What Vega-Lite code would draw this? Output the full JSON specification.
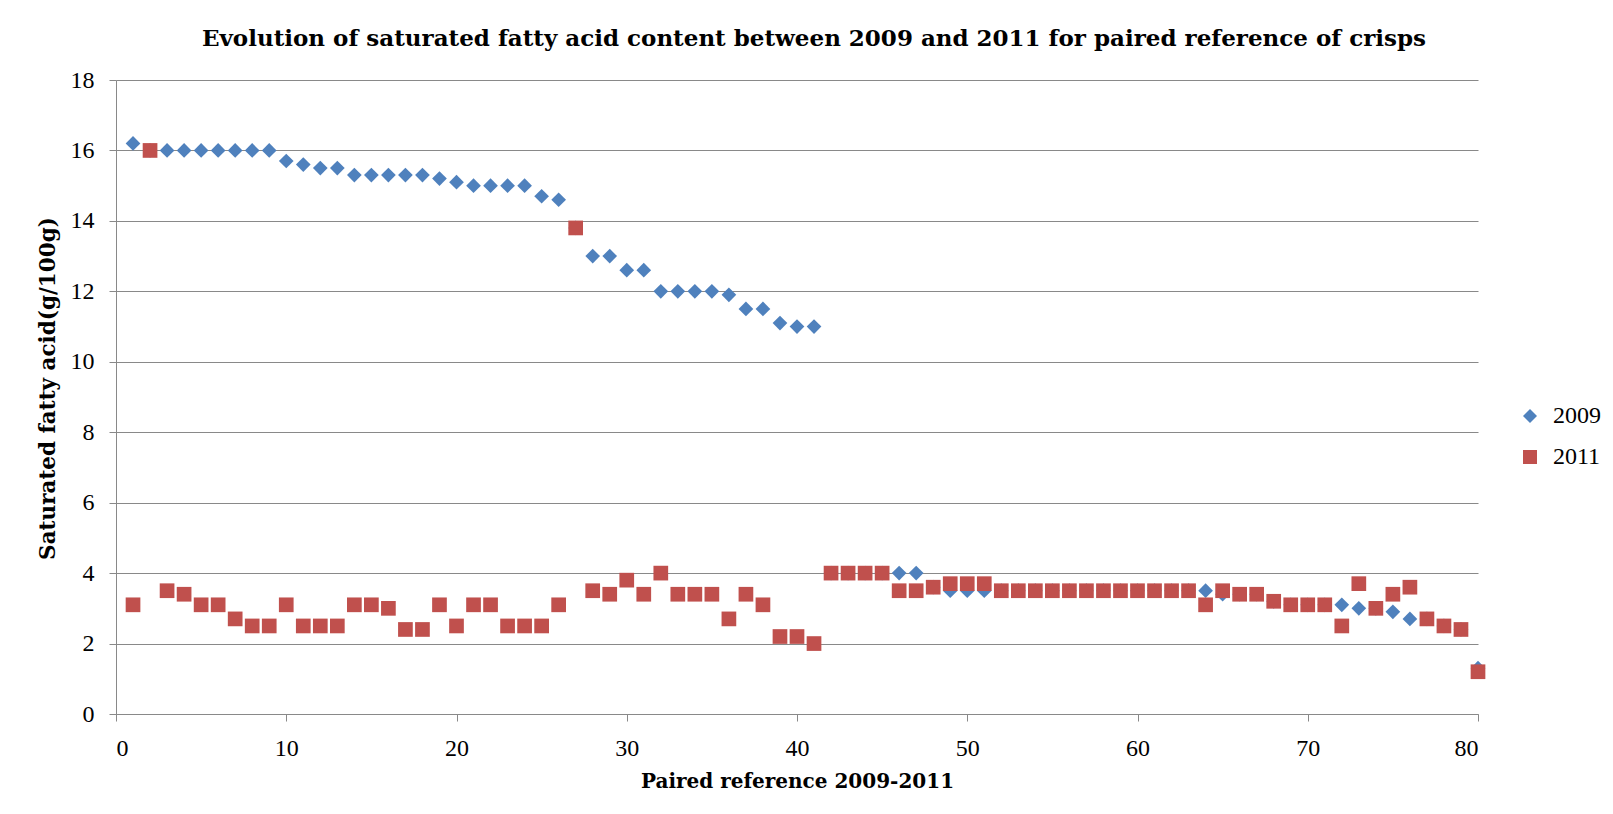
{
  "$schema": "https://vega.github.io/schema/vega-lite/v6.json",
  "width": 1362,
  "height": 634,
  "autosize": {"type": "none"},
  "padding": {"left": 116, "top": 80, "right": 135, "bottom": 100},
  "background": "white",
  "title": {
    "text": "Evolution of saturated fatty acid content between 2009 and 2011 for paired reference of crisps",
    "font": "DejaVu Serif",
    "fontSize": 23,
    "fontWeight": "bold",
    "color": "black",
    "anchor": "middle",
    "dx": 17,
    "offset": 17
  },
  "config": {
    "view": {"stroke": null},
    "axis": {
      "labelFont": "Liberation Serif",
      "labelFontSize": 24,
      "labelColor": "black",
      "titleFont": "DejaVu Serif",
      "titleFontSize": 20,
      "titleFontWeight": "bold",
      "titleColor": "black",
      "domainColor": "#898989",
      "tickColor": "#898989",
      "gridColor": "#898989",
      "gridWidth": 1,
      "domainWidth": 1,
      "tickSize": 7,
      "labelPadding": 15
    },
    "legend": {
      "labelFont": "Liberation Serif",
      "labelFontSize": 24,
      "labelColor": "black"
    }
  },
  "data": {
    "values": [
      {"ref": 1, "year": "2009", "sfa": 16.2},
      {"ref": 2, "year": "2009", "sfa": 16.0},
      {"ref": 3, "year": "2009", "sfa": 16.0},
      {"ref": 4, "year": "2009", "sfa": 16.0},
      {"ref": 5, "year": "2009", "sfa": 16.0},
      {"ref": 6, "year": "2009", "sfa": 16.0},
      {"ref": 7, "year": "2009", "sfa": 16.0},
      {"ref": 8, "year": "2009", "sfa": 16.0},
      {"ref": 9, "year": "2009", "sfa": 16.0},
      {"ref": 10, "year": "2009", "sfa": 15.7},
      {"ref": 11, "year": "2009", "sfa": 15.6},
      {"ref": 12, "year": "2009", "sfa": 15.5},
      {"ref": 13, "year": "2009", "sfa": 15.5},
      {"ref": 14, "year": "2009", "sfa": 15.3},
      {"ref": 15, "year": "2009", "sfa": 15.3},
      {"ref": 16, "year": "2009", "sfa": 15.3},
      {"ref": 17, "year": "2009", "sfa": 15.3},
      {"ref": 18, "year": "2009", "sfa": 15.3},
      {"ref": 19, "year": "2009", "sfa": 15.2},
      {"ref": 20, "year": "2009", "sfa": 15.1},
      {"ref": 21, "year": "2009", "sfa": 15.0},
      {"ref": 22, "year": "2009", "sfa": 15.0},
      {"ref": 23, "year": "2009", "sfa": 15.0},
      {"ref": 24, "year": "2009", "sfa": 15.0},
      {"ref": 25, "year": "2009", "sfa": 14.7},
      {"ref": 26, "year": "2009", "sfa": 14.6},
      {"ref": 27, "year": "2009", "sfa": 13.8},
      {"ref": 28, "year": "2009", "sfa": 13.0},
      {"ref": 29, "year": "2009", "sfa": 13.0},
      {"ref": 30, "year": "2009", "sfa": 12.6},
      {"ref": 31, "year": "2009", "sfa": 12.6},
      {"ref": 32, "year": "2009", "sfa": 12.0},
      {"ref": 33, "year": "2009", "sfa": 12.0},
      {"ref": 34, "year": "2009", "sfa": 12.0},
      {"ref": 35, "year": "2009", "sfa": 12.0},
      {"ref": 36, "year": "2009", "sfa": 11.9},
      {"ref": 37, "year": "2009", "sfa": 11.5},
      {"ref": 38, "year": "2009", "sfa": 11.5},
      {"ref": 39, "year": "2009", "sfa": 11.1},
      {"ref": 40, "year": "2009", "sfa": 11.0},
      {"ref": 41, "year": "2009", "sfa": 11.0},
      {"ref": 42, "year": "2009", "sfa": 4.0},
      {"ref": 43, "year": "2009", "sfa": 4.0},
      {"ref": 44, "year": "2009", "sfa": 4.0},
      {"ref": 45, "year": "2009", "sfa": 4.0},
      {"ref": 46, "year": "2009", "sfa": 4.0},
      {"ref": 47, "year": "2009", "sfa": 4.0},
      {"ref": 48, "year": "2009", "sfa": 3.6},
      {"ref": 49, "year": "2009", "sfa": 3.5},
      {"ref": 50, "year": "2009", "sfa": 3.5},
      {"ref": 51, "year": "2009", "sfa": 3.5},
      {"ref": 52, "year": "2009", "sfa": 3.5},
      {"ref": 53, "year": "2009", "sfa": 3.5},
      {"ref": 54, "year": "2009", "sfa": 3.5},
      {"ref": 55, "year": "2009", "sfa": 3.5},
      {"ref": 56, "year": "2009", "sfa": 3.5},
      {"ref": 57, "year": "2009", "sfa": 3.5},
      {"ref": 58, "year": "2009", "sfa": 3.5},
      {"ref": 59, "year": "2009", "sfa": 3.5},
      {"ref": 60, "year": "2009", "sfa": 3.5},
      {"ref": 61, "year": "2009", "sfa": 3.5},
      {"ref": 62, "year": "2009", "sfa": 3.5},
      {"ref": 63, "year": "2009", "sfa": 3.5},
      {"ref": 64, "year": "2009", "sfa": 3.5},
      {"ref": 65, "year": "2009", "sfa": 3.4},
      {"ref": 66, "year": "2009", "sfa": 3.4},
      {"ref": 67, "year": "2009", "sfa": 3.4},
      {"ref": 68, "year": "2009", "sfa": 3.2},
      {"ref": 69, "year": "2009", "sfa": 3.1},
      {"ref": 70, "year": "2009", "sfa": 3.1},
      {"ref": 71, "year": "2009", "sfa": 3.1},
      {"ref": 72, "year": "2009", "sfa": 3.1},
      {"ref": 73, "year": "2009", "sfa": 3.0},
      {"ref": 74, "year": "2009", "sfa": 3.0},
      {"ref": 75, "year": "2009", "sfa": 2.9},
      {"ref": 76, "year": "2009", "sfa": 2.7},
      {"ref": 77, "year": "2009", "sfa": 2.7},
      {"ref": 78, "year": "2009", "sfa": 2.5},
      {"ref": 79, "year": "2009", "sfa": 2.4},
      {"ref": 80, "year": "2009", "sfa": 1.3},
      {"ref": 1, "year": "2011", "sfa": 3.1},
      {"ref": 2, "year": "2011", "sfa": 16.0},
      {"ref": 3, "year": "2011", "sfa": 3.5},
      {"ref": 4, "year": "2011", "sfa": 3.4},
      {"ref": 5, "year": "2011", "sfa": 3.1},
      {"ref": 6, "year": "2011", "sfa": 3.1},
      {"ref": 7, "year": "2011", "sfa": 2.7},
      {"ref": 8, "year": "2011", "sfa": 2.5},
      {"ref": 9, "year": "2011", "sfa": 2.5},
      {"ref": 10, "year": "2011", "sfa": 3.1},
      {"ref": 11, "year": "2011", "sfa": 2.5},
      {"ref": 12, "year": "2011", "sfa": 2.5},
      {"ref": 13, "year": "2011", "sfa": 2.5},
      {"ref": 14, "year": "2011", "sfa": 3.1},
      {"ref": 15, "year": "2011", "sfa": 3.1},
      {"ref": 16, "year": "2011", "sfa": 3.0},
      {"ref": 17, "year": "2011", "sfa": 2.4},
      {"ref": 18, "year": "2011", "sfa": 2.4},
      {"ref": 19, "year": "2011", "sfa": 3.1},
      {"ref": 20, "year": "2011", "sfa": 2.5},
      {"ref": 21, "year": "2011", "sfa": 3.1},
      {"ref": 22, "year": "2011", "sfa": 3.1},
      {"ref": 23, "year": "2011", "sfa": 2.5},
      {"ref": 24, "year": "2011", "sfa": 2.5},
      {"ref": 25, "year": "2011", "sfa": 2.5},
      {"ref": 26, "year": "2011", "sfa": 3.1},
      {"ref": 27, "year": "2011", "sfa": 13.8},
      {"ref": 28, "year": "2011", "sfa": 3.5},
      {"ref": 29, "year": "2011", "sfa": 3.4},
      {"ref": 30, "year": "2011", "sfa": 3.8},
      {"ref": 31, "year": "2011", "sfa": 3.4},
      {"ref": 32, "year": "2011", "sfa": 4.0},
      {"ref": 33, "year": "2011", "sfa": 3.4},
      {"ref": 34, "year": "2011", "sfa": 3.4},
      {"ref": 35, "year": "2011", "sfa": 3.4},
      {"ref": 36, "year": "2011", "sfa": 2.7},
      {"ref": 37, "year": "2011", "sfa": 3.4},
      {"ref": 38, "year": "2011", "sfa": 3.1},
      {"ref": 39, "year": "2011", "sfa": 2.2},
      {"ref": 40, "year": "2011", "sfa": 2.2},
      {"ref": 41, "year": "2011", "sfa": 2.0},
      {"ref": 42, "year": "2011", "sfa": 4.0},
      {"ref": 43, "year": "2011", "sfa": 4.0},
      {"ref": 44, "year": "2011", "sfa": 4.0},
      {"ref": 45, "year": "2011", "sfa": 4.0},
      {"ref": 46, "year": "2011", "sfa": 3.5},
      {"ref": 47, "year": "2011", "sfa": 3.5},
      {"ref": 48, "year": "2011", "sfa": 3.6},
      {"ref": 49, "year": "2011", "sfa": 3.7},
      {"ref": 50, "year": "2011", "sfa": 3.7},
      {"ref": 51, "year": "2011", "sfa": 3.7},
      {"ref": 52, "year": "2011", "sfa": 3.5},
      {"ref": 53, "year": "2011", "sfa": 3.5},
      {"ref": 54, "year": "2011", "sfa": 3.5},
      {"ref": 55, "year": "2011", "sfa": 3.5},
      {"ref": 56, "year": "2011", "sfa": 3.5},
      {"ref": 57, "year": "2011", "sfa": 3.5},
      {"ref": 58, "year": "2011", "sfa": 3.5},
      {"ref": 59, "year": "2011", "sfa": 3.5},
      {"ref": 60, "year": "2011", "sfa": 3.5},
      {"ref": 61, "year": "2011", "sfa": 3.5},
      {"ref": 62, "year": "2011", "sfa": 3.5},
      {"ref": 63, "year": "2011", "sfa": 3.5},
      {"ref": 64, "year": "2011", "sfa": 3.1},
      {"ref": 65, "year": "2011", "sfa": 3.5},
      {"ref": 66, "year": "2011", "sfa": 3.4},
      {"ref": 67, "year": "2011", "sfa": 3.4},
      {"ref": 68, "year": "2011", "sfa": 3.2},
      {"ref": 69, "year": "2011", "sfa": 3.1},
      {"ref": 70, "year": "2011", "sfa": 3.1},
      {"ref": 71, "year": "2011", "sfa": 3.1},
      {"ref": 72, "year": "2011", "sfa": 2.5},
      {"ref": 73, "year": "2011", "sfa": 3.7},
      {"ref": 74, "year": "2011", "sfa": 3.0},
      {"ref": 75, "year": "2011", "sfa": 3.4},
      {"ref": 76, "year": "2011", "sfa": 3.6},
      {"ref": 77, "year": "2011", "sfa": 2.7},
      {"ref": 78, "year": "2011", "sfa": 2.5},
      {"ref": 79, "year": "2011", "sfa": 2.4},
      {"ref": 80, "year": "2011", "sfa": 1.2}
    ]
  },
  "mark": {"type": "point", "filled": true, "opacity": 1, "size": 216},
  "encoding": {
    "x": {
      "field": "ref",
      "type": "quantitative",
      "title": "Paired reference 2009-2011",
      "scale": {"domain": [0, 80], "nice": false, "zero": true},
      "axis": {
        "values": [0, 10, 20, 30, 40, 50, 60, 70, 80],
        "grid": false,
        "titlePadding": 11
      }
    },
    "y": {
      "field": "sfa",
      "type": "quantitative",
      "title": "Saturated fatty acid(g/100g)",
      "scale": {"domain": [0, 18], "nice": false},
      "axis": {
        "values": [0, 2, 4, 6, 8, 10, 12, 14, 16, 18],
        "grid": true,
        "titleFontSize": 21.5,
        "titlePadding": 11,
        "titleY": 308
      }
    },
    "color": {
      "field": "year",
      "type": "nominal",
      "scale": {"domain": ["2009", "2011"], "range": ["#4F81BD", "#C0504D"]},
      "legend": {
        "title": null,
        "orient": "none",
        "legendX": 1402,
        "legendY": 324,
        "padding": 0,
        "symbolSize": 196,
        "rowPadding": 17,
        "labelOffset": 11,
        "symbolOpacity": 1
      }
    },
    "shape": {
      "field": "year",
      "type": "nominal",
      "scale": {"domain": ["2009", "2011"], "range": ["diamond", "square"]}
    }
  }
}
